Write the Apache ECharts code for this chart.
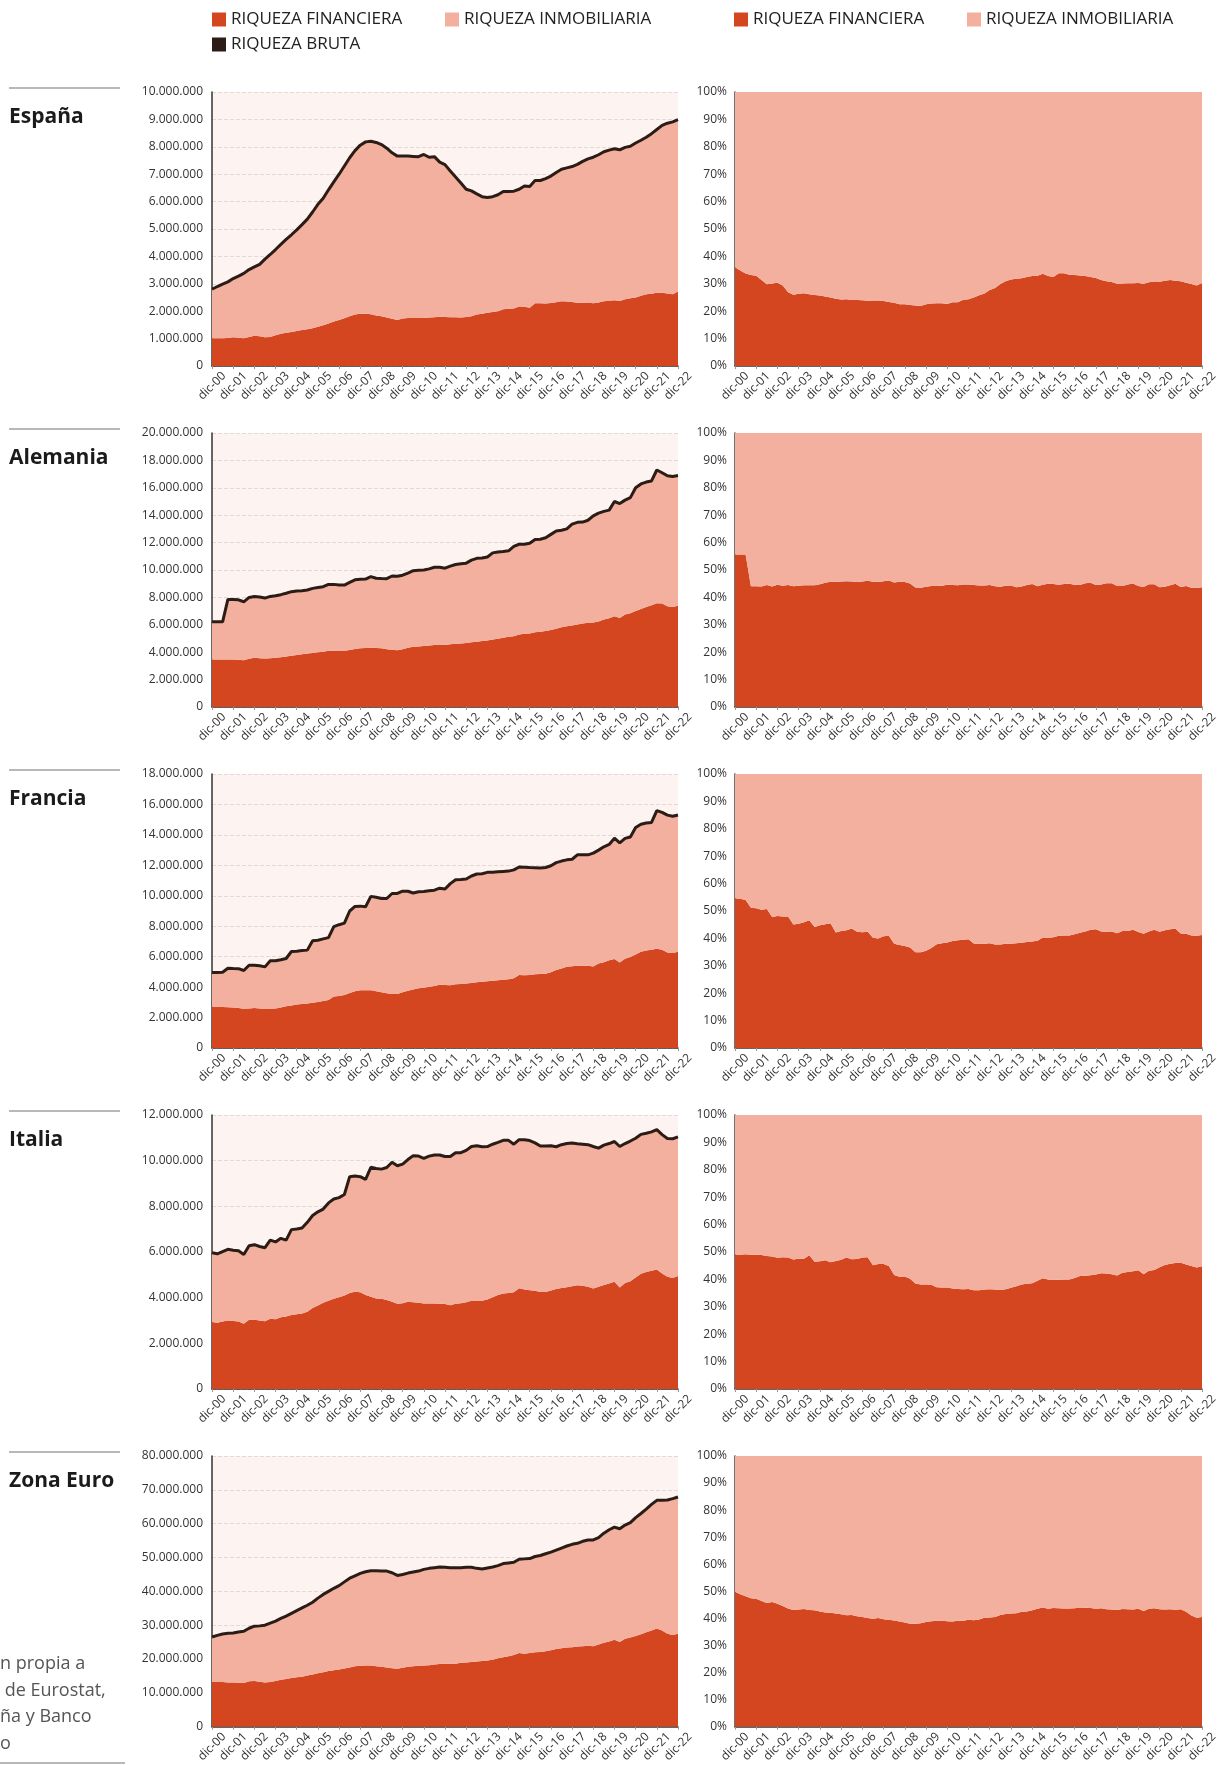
<!DOCTYPE html>
<html>
<head>
<meta charset="utf-8">
<script src="https://cdn.jsdelivr.net/npm/echarts@6/dist/echarts.min.js"></script>
<style>
html, body { margin: 0; padding: 0; background: #fff; }
#chart { width: 1224px; height: 1765px; }
</style>
</head>
<body>
<div id="chart"></div>
<script>
// valores en millones, trimestrales de dic-00 a dic-22
const UNIT = 1e6;
const years = ['00','01','02','03','04','05','06','07','08','09','10','11','12','13','14','15','16','17','18','19','20','21','22'];
const quarters = ['mar', 'jun', 'sep', 'dic'];

const espFin = [1.01,1.01,1.01,1.02, 1.05,1.03,1.01,1.06, 1.10,1.09,1.05,1.06, 1.12,1.18,1.21,1.24, 1.28,1.31,1.34,1.38, 1.43,1.49,1.55,1.62, 1.68,1.74,1.82,1.88, 1.91,1.91,1.89,1.84, 1.82,1.77,1.72,1.68, 1.73,1.75,1.75,1.75, 1.75,1.77,1.78,1.80, 1.79,1.78,1.78,1.77, 1.79,1.82,1.88,1.91, 1.94,1.97,2.00,2.07, 2.09,2.10,2.17,2.16, 2.13,2.29,2.29,2.28, 2.30,2.33,2.36,2.35, 2.34,2.31,2.31,2.32, 2.29,2.32,2.36,2.38, 2.40,2.37,2.44,2.47, 2.50,2.56,2.62,2.64, 2.67,2.67,2.65,2.62, 2.72];
const espBruta = [2.80,2.90,2.99,3.07, 3.19,3.28,3.38,3.52, 3.62,3.71,3.90,4.07, 4.25,4.44,4.62,4.79, 4.97,5.16,5.36,5.62, 5.90,6.12,6.43,6.72, 7.00,7.30,7.60,7.86, 8.06,8.18,8.20,8.16, 8.08,7.95,7.78,7.66, 7.66,7.66,7.65,7.64, 7.72,7.62,7.64,7.44, 7.35,7.12,6.90,6.68, 6.45,6.39,6.28,6.18, 6.15,6.18,6.25,6.37, 6.37,6.38,6.45,6.57, 6.55,6.77,6.77,6.84, 6.93,7.06,7.18,7.23, 7.28,7.36,7.47,7.56, 7.62,7.71,7.82,7.88, 7.93,7.89,7.98,8.02, 8.14,8.24,8.35,8.48, 8.63,8.78,8.86,8.91, 8.99];

const deuFin = [3.46,3.46,3.46,3.46, 3.46,3.44,3.42,3.52, 3.60,3.55,3.54,3.56, 3.59,3.64,3.69,3.74, 3.79,3.85,3.90,3.95, 3.99,4.03,4.10,4.08, 4.08,4.10,4.16,4.23, 4.28,4.31,4.33,4.30, 4.28,4.22,4.17,4.15, 4.22,4.32,4.39,4.42, 4.46,4.49,4.53,4.56, 4.53,4.58,4.61,4.63, 4.68,4.72,4.76,4.81, 4.86,4.92,4.98,5.05, 5.12,5.17,5.30,5.34, 5.36,5.45,5.50,5.55, 5.62,5.72,5.82,5.90, 5.95,6.03,6.10,6.15, 6.16,6.25,6.38,6.48, 6.62,6.50,6.76,6.85, 7.00,7.15,7.30,7.42, 7.58,7.55,7.35,7.30, 7.39];
const deuBruta = [6.22,6.22,6.22,7.85, 7.85,7.82,7.68,8.00, 8.07,8.03,7.95,8.07, 8.12,8.20,8.30,8.42, 8.46,8.49,8.54,8.66, 8.72,8.78,8.95,8.95, 8.90,8.90,9.10,9.28, 9.32,9.34,9.52,9.40, 9.38,9.37,9.56,9.54, 9.62,9.78,9.95,9.98, 10.00,10.08,10.20,10.20, 10.13,10.28,10.40,10.45, 10.50,10.72,10.85,10.88, 10.95,11.25,11.32,11.35, 11.40,11.72,11.88,11.88, 11.95,12.22,12.24,12.35, 12.60,12.85,12.90,13.00, 13.35,13.48,13.50,13.63, 13.95,14.15,14.28,14.37, 15.00,14.85,15.10,15.28, 16.00,16.28,16.42,16.50, 17.30,17.10,16.88,16.82, 16.90];

const fraFin = [2.71,2.70,2.69,2.68, 2.66,2.63,2.58,2.60, 2.62,2.59,2.56,2.58, 2.60,2.66,2.74,2.80, 2.85,2.89,2.93,2.97, 3.02,3.08,3.16,3.38, 3.42,3.48,3.62,3.72, 3.80,3.80,3.79,3.72, 3.66,3.60,3.55,3.55, 3.66,3.76,3.85,3.92, 3.96,4.03,4.08,4.15, 4.14,4.12,4.19,4.21, 4.24,4.27,4.32,4.36, 4.39,4.42,4.45,4.49, 4.52,4.58,4.80,4.78, 4.79,4.85,4.86,4.87, 4.97,5.12,5.22,5.33, 5.37,5.40,5.38,5.40, 5.36,5.55,5.64,5.77, 5.84,5.62,5.86,5.98, 6.15,6.32,6.40,6.45, 6.52,6.45,6.28,6.24, 6.32];
const fraBruta = [4.96,4.96,4.98,5.24, 5.22,5.21,5.09,5.44, 5.44,5.40,5.33,5.73, 5.73,5.80,5.88,6.34, 6.36,6.40,6.43,7.05, 7.08,7.17,7.25,7.97, 8.10,8.20,9.00,9.30, 9.32,9.28,9.96,9.90, 9.82,9.82,10.15,10.15, 10.30,10.30,10.18,10.26, 10.28,10.33,10.37,10.50, 10.44,10.80,11.05,11.07, 11.10,11.30,11.43,11.45, 11.54,11.55,11.58,11.60, 11.62,11.70,11.89,11.88, 11.85,11.84,11.83,11.86, 11.97,12.18,12.28,12.36, 12.40,12.69,12.69,12.69, 12.80,13.00,13.22,13.37, 13.78,13.48,13.77,13.86, 14.48,14.70,14.78,14.82, 15.59,15.48,15.30,15.22, 15.31];

const itaFin = [2.93,2.90,2.96,3.00, 2.98,2.96,2.86,3.03, 3.03,3.00,2.97,3.08, 3.06,3.14,3.18,3.24, 3.27,3.31,3.38,3.55, 3.66,3.78,3.86,3.95, 4.02,4.10,4.20,4.26, 4.24,4.12,4.04,3.96, 3.95,3.90,3.82,3.73, 3.76,3.82,3.80,3.78, 3.74,3.74,3.74,3.73, 3.72,3.67,3.73,3.76, 3.80,3.86,3.85,3.86, 3.92,4.02,4.12,4.18, 4.20,4.24,4.41,4.36, 4.33,4.30,4.25,4.25, 4.31,4.38,4.42,4.46, 4.50,4.54,4.52,4.48, 4.40,4.48,4.56,4.62, 4.70,4.45,4.64,4.72, 4.88,5.05,5.12,5.18, 5.23,5.06,4.92,4.86, 4.95];
const itaBruta = [5.97,5.92,6.02,6.12, 6.08,6.05,5.89,6.27, 6.32,6.24,6.19,6.52, 6.44,6.60,6.52,6.98, 7.01,7.05,7.30,7.60, 7.76,7.88,8.15,8.32, 8.38,8.52,9.30,9.33, 9.30,9.18,9.71,9.66, 9.63,9.70,9.93,9.78, 9.85,10.05,10.22,10.20, 10.10,10.20,10.25,10.25, 10.18,10.18,10.35,10.35, 10.45,10.62,10.65,10.61, 10.62,10.72,10.80,10.89, 10.89,10.72,10.92,10.92, 10.88,10.78,10.64,10.64, 10.65,10.61,10.70,10.75, 10.77,10.74,10.72,10.70, 10.62,10.55,10.68,10.75, 10.84,10.62,10.75,10.86, 10.98,11.15,11.20,11.26, 11.36,11.14,10.97,10.96, 11.04];

const zeFin = [13.2,13.2,13.2,13.1, 13.1,13.0,12.9,13.4, 13.5,13.3,13.1,13.2, 13.5,13.9,14.1,14.4, 14.6,14.8,15.1,15.4, 15.8,16.1,16.5,16.7, 16.9,17.2,17.5,17.9, 18.0,18.1,18.1,17.9, 17.7,17.5,17.3,17.1, 17.4,17.7,17.9,18.0, 18.1,18.2,18.4,18.5, 18.6,18.5,18.6,18.9, 19.0,19.1,19.3,19.4, 19.6,19.8,20.2,20.5, 20.8,21.2,21.8,21.6, 21.8,22.0,22.1,22.3, 22.6,23.0,23.2,23.4, 23.5,23.7,23.8,23.9, 23.8,24.3,24.8,25.2, 25.7,25.0,26.0,26.4, 26.8,27.3,27.9,28.4, 29.0,28.4,27.5,27.1, 27.5];
const zeBruta = [26.5,27.0,27.4,27.6, 27.7,28.0,28.2,29.1, 29.7,29.8,30.0,30.6, 31.2,32.0,32.7,33.5, 34.3,35.1,35.9,36.8, 38.0,39.1,40.0,40.9, 41.7,42.8,43.9,44.6, 45.3,45.8,46.1,46.1, 46.0,46.0,45.5,44.7, 45.0,45.4,45.7,46.0, 46.5,46.8,47.0,47.2, 47.1,47.0,47.0,47.0, 47.1,47.1,46.8,46.6, 46.9,47.2,47.6,48.2, 48.4,48.6,49.5,49.6, 49.7,50.3,50.6,51.1, 51.6,52.2,52.8,53.4, 53.9,54.2,54.8,55.2, 55.2,55.9,57.2,58.2, 59.0,58.5,59.6,60.3, 61.8,63.0,64.3,65.7, 66.9,66.9,67.0,67.4, 67.9];

const countries = [
    { name: 'España', fin: espFin, bruta: espBruta, max: 10e6, step: 1e6 },
    { name: 'Alemania', fin: deuFin, bruta: deuBruta, max: 20e6, step: 2e6 },
    { name: 'Francia', fin: fraFin, bruta: fraBruta, max: 18e6, step: 2e6 },
    { name: 'Italia', fin: itaFin, bruta: itaBruta, max: 12e6, step: 2e6 },
    { name: 'Zona Euro', fin: zeFin, bruta: zeBruta, max: 80e6, step: 10e6 }
];

const sourceLines = ['n propia a', ' de Eurostat,', 'ña y Banco', 'o'];

// categorías trimestrales, etiqueta visible sólo en diciembre
const cats = ['dic-' + years[0]];
years.slice(1).forEach(y => quarters.forEach(q => cats.push(q + '-' + y)));

const FONT = '"Open Sans", sans-serif';
const C_FIN = '#D4461F';
const C_INM = '#F3B09F';
const C_BRUTA = '#2B1C16';
const C_BG = '#FDF4F1';
const N_FIN = 'RIQUEZA FINANCIERA';
const N_INM = 'RIQUEZA INMOBILIARIA';
const N_BRUTA = 'RIQUEZA BRUTA';

const ROW0 = 92, ROW_STEP = 341, PLOT_H = 274;

function miles(v) {
    return String(v).replace(/\B(?=(\d{3})+(?!\d))/g, '.');
}

const grid = [], xAxis = [], yAxis = [], series = [], graphic = [];

function catAxis(g) {
    return {
        type: 'category',
        gridIndex: g,
        data: cats,
        boundaryGap: false,
        axisLine: { lineStyle: { color: '#333', width: 1.5 } },
        axisTick: { show: true, interval: 3, length: 3, lineStyle: { color: '#999' } },
        axisLabel: {
            interval: 3,
            rotate: 45,
            align: 'center',
            verticalAlign: 'middle',
            margin: 20,
            fontSize: 12,
            color: '#333',
            fontFamily: FONT,
            showMinLabel: true,
            showMaxLabel: true
        },
        splitLine: { show: false }
    };
}

countries.forEach((c, r) => {
    const top = ROW0 + ROW_STEP * r;
    const gl = r * 2, gr = r * 2 + 1;

    grid.push({ left: 212, top: top, width: 466, height: PLOT_H, show: true, backgroundColor: C_BG, borderWidth: 0 });
    grid.push({ left: 735, top: top, width: 467, height: PLOT_H });

    xAxis.push(catAxis(gl), catAxis(gr));

    yAxis.push({
        type: 'value',
        gridIndex: gl,
        min: 0,
        max: c.max,
        interval: c.step,
        axisLine: { show: true, lineStyle: { color: '#333', width: 1.5 } },
        axisTick: { show: false },
        axisLabel: { formatter: v => miles(v), fontSize: 12, color: '#333', margin: 9, fontFamily: FONT },
        splitLine: { show: true, lineStyle: { color: '#e3dad7', type: 'dashed' } }
    });
    yAxis.push({
        type: 'value',
        gridIndex: gr,
        min: 0,
        max: 100,
        interval: 10,
        axisLine: { show: true, lineStyle: { color: '#444', width: 1.5 } },
        axisTick: { show: false },
        axisLabel: { formatter: '{value}%', fontSize: 12, color: '#333', margin: 8, fontFamily: FONT },
        splitLine: { show: false }
    });

    const fin = c.fin.map(v => v * UNIT);
    const inm = c.bruta.map((b, i) => (b - c.fin[i]) * UNIT);
    const bruta = c.bruta.map(v => v * UNIT);
    const share = c.fin.map((f, i) => +(f / c.bruta[i] * 100).toFixed(2));
    const rest = share.map(s => +(100 - s).toFixed(2));

    const area = (name, color, data, g, stack) => ({
        name: name,
        type: 'line',
        xAxisIndex: g,
        yAxisIndex: g,
        stack: stack,
        data: data,
        symbol: 'none',
        silent: true,
        lineStyle: { width: 0 },
        itemStyle: { color: color },
        areaStyle: { color: color, opacity: 1 }
    });

    series.push(area(N_FIN, C_FIN, fin, gl, 'l' + r));
    series.push(area(N_INM, C_INM, inm, gl, 'l' + r));
    series.push({
        name: N_BRUTA,
        type: 'line',
        xAxisIndex: gl,
        yAxisIndex: gl,
        data: bruta,
        symbol: 'none',
        silent: true,
        z: 3,
        itemStyle: { color: C_BRUTA },
        lineStyle: { color: C_BRUTA, width: 3 }
    });
    series.push(area(N_FIN, C_FIN, share, gr, 'p' + r));
    series.push(area(N_INM, C_INM, rest, gr, 'p' + r));

    graphic.push({
        type: 'line',
        shape: { x1: 9, y1: top - 4, x2: 120, y2: top - 4 },
        style: { stroke: '#b8b8b8', lineWidth: 2 }
    });
    graphic.push({
        type: 'text',
        x: 9,
        y: top + 25,
        style: { text: c.name, font: 'bold 21px "Open Sans"', fill: '#1b1b1b', verticalAlign: 'middle' }
    });
});

// nota de fuente, cortada por el borde izquierdo
sourceLines.forEach((t, i) => {
    graphic.push({
        type: 'text',
        x: 0,
        y: 1664 + i * 26.5,
        style: { text: t, font: '18px "Open Sans"', fill: '#555', verticalAlign: 'middle' }
    });
});
graphic.push({
    type: 'line',
    shape: { x1: 0, y1: 1763, x2: 125, y2: 1763 },
    style: { stroke: '#b8b8b8', lineWidth: 2 }
});

const legendBase = (left, top, item, color) => ({
    left: left,
    top: top,
    icon: 'rect',
    itemWidth: 14,
    itemHeight: 14,
    itemGap: 5,
    padding: 0,
    selectedMode: false,
    textStyle: { fontSize: 17, color: '#222', fontFamily: FONT },
    data: [{ name: item, itemStyle: { color: color } }]
});

const chart = echarts.init(document.getElementById('chart'));
chart.setOption({
    animation: false,
    backgroundColor: '#fff',
    textStyle: { fontFamily: FONT },
    legend: [
        legendBase(212, 11, N_FIN, C_FIN),
        legendBase(445, 11, N_INM, C_INM),
        legendBase(212, 36, N_BRUTA, C_BRUTA),
        legendBase(734, 11, N_FIN, C_FIN),
        legendBase(967, 11, N_INM, C_INM)
    ],
    grid: grid,
    xAxis: xAxis,
    yAxis: yAxis,
    series: series,
    graphic: graphic
});
</script>
</body>
</html>
